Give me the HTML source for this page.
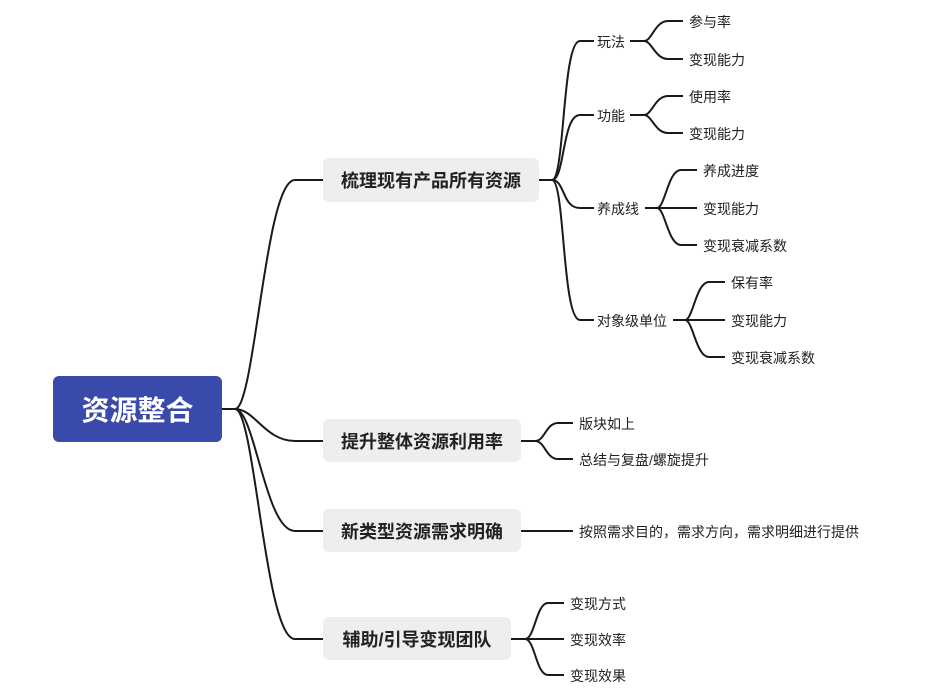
<!DOCTYPE html>
<html><head><meta charset="utf-8"><style>
body{margin:0;width:933px;height:691px;background:#fff;position:relative;overflow:hidden;font-family:"Liberation Sans","Noto Sans CJK SC",sans-serif;}
.b{position:absolute;background:#eeeeee;border-radius:6px;font-weight:bold;font-size:18px;color:#222;display:flex;align-items:center;justify-content:center;}
.t{position:absolute;font-size:14px;color:#222;line-height:16px;transform:translateY(-7px);white-space:nowrap;}
</style></head><body>
<svg width="933" height="691" style="position:absolute;left:0;top:0" fill="none" stroke="#1a1a1a" stroke-width="2">
<path d="M222 409H235"/>
<path d="M235 409C255 409 265 180 295 180H323"/>
<path d="M235 409C255 409 265 441 295 441H323"/>
<path d="M235 409C255 409 265 531 295 531H323"/>
<path d="M235 409C255 409 265 639 295 639H323"/>
<path d="M539 180H552"/>
<path d="M552 180C565 180 562 41 580 41H594"/>
<path d="M552 180C565 180 562 115 580 115H594"/>
<path d="M552 180C565 180 562 208 580 208H594"/>
<path d="M552 180C565 180 562 320 580 320H594"/>
<path d="M630 41H644C652 41 655 21 668 21H683M644 41C652 41 655 59 668 59H683"/>
<path d="M630 115H644C652 115 655 96 668 96H683M644 115C652 115 655 133 668 133H683"/>
<path d="M645 208H657C665 208 668 170 681 170H697M657 208H697M657 208C665 208 668 245 681 245H697"/>
<path d="M673 320H685C693 320 696 282 709 282H725M685 320H725M685 320C693 320 696 357 709 357H725"/>
<path d="M521 441H535C545 441 546 423 558 423H573M535 441C545 441 546 459 558 459H573"/>
<path d="M521 531H573"/>
<path d="M511 639H525C535 639 536 603 548 603H564M525 639H564M525 639C535 639 536 675 548 675H564"/>
</svg>
<div class="b" style="left:53px;top:376px;width:169px;height:66px;background:#3a4aaa;color:#fff;font-size:28px;">资源整合</div>
<div class="b" style="left:323px;top:158px;width:216px;height:44px;">梳理现有产品所有资源</div>
<div class="b" style="left:323px;top:419px;width:198px;height:43px;">提升整体资源利用率</div>
<div class="b" style="left:323px;top:509px;width:198px;height:43px;">新类型资源需求明确</div>
<div class="b" style="left:323px;top:617px;width:188px;height:43px;">辅助/引导变现团队</div>
<div class="t" style="left:597px;top:41px">玩法</div>
<div class="t" style="left:597px;top:115px">功能</div>
<div class="t" style="left:597px;top:208px">养成线</div>
<div class="t" style="left:597px;top:320px">对象级单位</div>
<div class="t" style="left:689px;top:21px">参与率</div>
<div class="t" style="left:689px;top:59px">变现能力</div>
<div class="t" style="left:689px;top:96px">使用率</div>
<div class="t" style="left:689px;top:133px">变现能力</div>
<div class="t" style="left:703px;top:170px">养成进度</div>
<div class="t" style="left:703px;top:208px">变现能力</div>
<div class="t" style="left:703px;top:245px">变现衰减系数</div>
<div class="t" style="left:731px;top:282px">保有率</div>
<div class="t" style="left:731px;top:320px">变现能力</div>
<div class="t" style="left:731px;top:357px">变现衰减系数</div>
<div class="t" style="left:579px;top:423px">版块如上</div>
<div class="t" style="left:579px;top:459px">总结与复盘/螺旋提升</div>
<div class="t" style="left:579px;top:531px">按照需求目的，需求方向，需求明细进行提供</div>
<div class="t" style="left:570px;top:603px">变现方式</div>
<div class="t" style="left:570px;top:639px">变现效率</div>
<div class="t" style="left:570px;top:675px">变现效果</div>
</body></html>
